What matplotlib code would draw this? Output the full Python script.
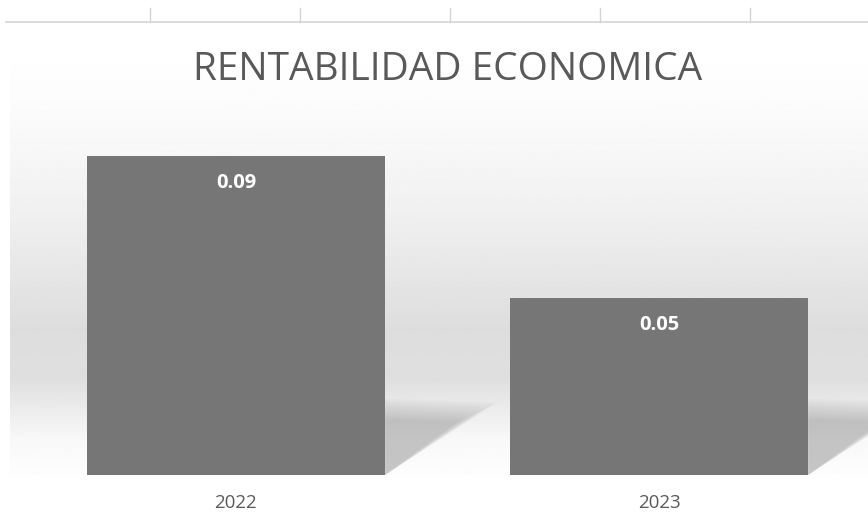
import numpy as np
import matplotlib
matplotlib.use("Agg")
import matplotlib.pyplot as plt
from matplotlib.patches import Polygon

# datos
anios = ["2022", "2023"]
rentabilidad = [0.09, 0.05]
etiquetas = ["0.09", "0.05"]

W, H = 868, 527
fig = plt.figure(figsize=(W / 100, H / 100), dpi=100)
fig.patch.set_facecolor("white")

def caja(x0, y0, x1, y1):
    # pixeles (origen arriba-izquierda) -> fraccion de figura
    return [x0 / W, 1 - y1 / H, (x1 - x0) / W, (y1 - y0) / H]

# fondo degradado
bg = fig.add_axes(caja(10, 45, 868, 475))
bg.set_axis_off()
filas = np.array([45, 100, 160, 220, 270, 330, 380, 410, 440, 475], dtype=float)
tonos = np.array([255, 252, 246, 239, 231, 221, 223, 236, 248, 253], dtype=float)
yy = np.linspace(45, 475, 400)
grad = np.interp(yy, filas, tonos) / 255.0
bg.imshow(np.repeat(grad[:, None], 2, axis=1), cmap="gray", vmin=0, vmax=1,
          aspect="auto", extent=[0, 1, 0, 1], origin="upper")
bg.set_xlim(0, 1)
bg.set_ylim(0, 1)

# linea superior con marcas (restos de la hoja)
top = fig.add_axes(caja(0, 0, 868, 30))
top.set_axis_off()
top.set_xlim(0, W)
top.set_ylim(30, 0)
top.plot([6, W], [22, 22], color="#d4d4d4", lw=1.2)
for xt in [150, 300, 450, 600, 750]:
    top.plot([xt, xt], [8, 22], color="#d4d4d4", lw=1.0)

# grafico
ax = fig.add_axes(caja(10, 120.6, 868, 475))
ax.patch.set_alpha(0)
x = np.arange(len(anios))
ancho = 0.705
ax.set_xlim(-0.534, 1.494)
ax.set_ylim(0, 0.1)

# sombras diagonales
for xi, v in zip(x, rentabilidad):
    xr = xi + ancho / 2
    for k in range(12):
        f = k / 12
        poly = Polygon([(xr, 0.0215 * (1 - f * 0.3)), (xr + 0.265 * (1 - f * 0.4), 0.0205 * (1 - f * 0.3)),
                        (xr, 0.0)], closed=True, facecolor="#7a7a7a",
                       edgecolor="none", alpha=0.04, zorder=1)
        ax.add_patch(poly)

barras = ax.bar(x, rentabilidad, width=ancho, color="#767676", zorder=2)
for b, t in zip(barras, etiquetas):
    ax.text(b.get_x() + b.get_width() / 2, b.get_height() - 0.0077, t,
            ha="center", va="center", color="white", fontsize=14.5,
            fontweight="bold", family="Open Sans", zorder=3)

ax.set_xticks(x)
ax.set_xticklabels(anios, fontsize=13.5, color="#595959", family="Open Sans")
ax.tick_params(axis="x", length=0, pad=14)
ax.set_yticks([])
for s in ax.spines.values():
    s.set_visible(False)

fig.text(448 / W, 1 - 70 / H, "RENTABILIDAD ECONOMICA", ha="center", va="center",
         fontsize=28, color="#595959", family="Open Sans")

fig.savefig("out.png", dpi=100)
